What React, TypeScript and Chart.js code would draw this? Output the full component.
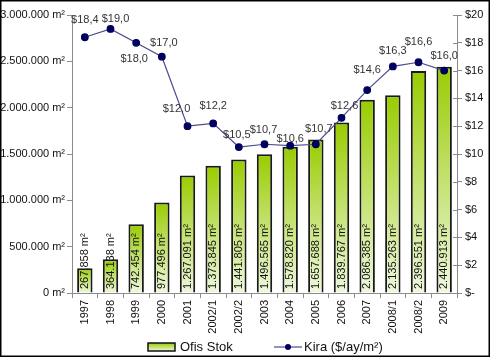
import React, { useEffect, useRef } from "react";
import { Chart, registerables } from "chart.js";

Chart.register(...registerables);

const categories = ["1997", "1998", "1999", "2000", "2001", "2002/1", "2002/2", "2003", "2004", "2005", "2006", "2007", "2008/1", "2008/2", "2009"];
const stockValues = [267858, 364138, 742454, 977496, 1267091, 1373845, 1441805, 1496565, 1578820, 1657688, 1839767, 2086385, 2135263, 2396551, 2440913];
const rentValues = [18.4, 19.0, 18.0, 17.0, 12.0, 12.2, 10.5, 10.7, 10.6, 10.7, 12.6, 14.6, 16.3, 16.6, 16.0];
const leftTicks = [0, 500000, 1000000, 1500000, 2000000, 2500000, 3000000];
const rightTicks = [0, 2, 4, 6, 8, 10, 12, 14, 16, 18, 20];
const stockLabel = "Ofis Stok";
const rentLabel = "Kira ($/ay/m²)";

const FONT = "'Liberation Sans', Arial, sans-serif";
const fmtThousands = (v: number) => String(Math.round(v)).replace(/\B(?=(\d{3})+(?!\d))/g, ".");
const fmtRent = (v: number) => "$" + v.toFixed(1).replace(".", ",");

// label offsets (dx, dy) relative to point, for readability like the original
const rentLabelOffsets: [number, number][] = [
  [0, -17], [5, -10], [-2, 16], [2, -14], [-11, -17], [0, -17], [-2, -12], [-1, -14], [0, -7], [3, -15], [3, -12], [0, -20], [0, -15], [0, -20], [0, -15],
];

const COLORS = {
  axis: "#8c8c8c",
  text: "#333333",
  barTop: "rgb(153,204,0)",
  barBottom: "rgb(238,247,222)",
  line: "#4a4a8c",
  point: "#00005e",
};

const labelsPlugin = {
  id: "customLabels",
  afterDatasetsDraw(chart: any) {
    const ctx = chart.ctx;
    const barMeta = chart.getDatasetMeta(0);
    const lineMeta = chart.getDatasetMeta(1);
    const yScale = chart.scales.y;
    ctx.save();
    ctx.font = `11px ${FONT}`;
    ctx.fillStyle = "#111";
    ctx.textBaseline = "middle";
    ctx.textAlign = "left";
    barMeta.data.forEach((bar: any, i: number) => {
      const base = yScale.getPixelForValue(0);
      ctx.save();
      ctx.translate(bar.x, base - 4);
      ctx.rotate(-Math.PI / 2);
      ctx.fillText(fmtThousands(stockValues[i]) + " m²", 0, 0);
      ctx.restore();
    });
    ctx.fillStyle = COLORS.text;
    ctx.textAlign = "center";
    lineMeta.data.forEach((pt: any, i: number) => {
      const [dx, dy] = rentLabelOffsets[i];
      ctx.fillText(fmtRent(rentValues[i]), pt.x + dx, pt.y + dy);
    });
    ctx.restore();
  },
  afterDraw(chart: any) {
    const ctx = chart.ctx;
    const y1 = chart.scales.y1;
    ctx.save();
    // inward ticks on right axis
    ctx.strokeStyle = COLORS.axis;
    ctx.lineWidth = 1;
    rightTicks.forEach((v) => {
      const py = Math.round(y1.getPixelForValue(v)) + 0.5;
      ctx.beginPath();
      ctx.moveTo(y1.left - 4, py);
      ctx.lineTo(y1.left, py);
      ctx.stroke();
    });
    // legend
    const ly = 347;
    const bx = 148, bw = 27, bh = 8;
    const g = ctx.createLinearGradient(0, ly - bh / 2, 0, ly + bh / 2);
    g.addColorStop(0, COLORS.barTop);
    g.addColorStop(1, COLORS.barBottom);
    ctx.fillStyle = g;
    ctx.fillRect(bx, ly - bh / 2, bw, bh);
    ctx.strokeStyle = "#111";
    ctx.lineWidth = 1.5;
    ctx.strokeRect(bx, ly - bh / 2, bw, bh);
    ctx.font = `13px ${FONT}`;
    ctx.fillStyle = "#111";
    ctx.textAlign = "left";
    ctx.textBaseline = "middle";
    ctx.fillText(stockLabel, bx + bw + 5, ly);
    const lx = 274;
    ctx.strokeStyle = COLORS.line;
    ctx.lineWidth = 1.2;
    ctx.beginPath();
    ctx.moveTo(lx, ly);
    ctx.lineTo(lx + 28, ly);
    ctx.stroke();
    ctx.fillStyle = COLORS.point;
    ctx.beginPath();
    ctx.arc(lx + 14, ly, 3, 0, Math.PI * 2);
    ctx.fill();
    ctx.fillStyle = "#111";
    ctx.fillText(rentLabel, lx + 30, ly);
    // frame
    ctx.strokeStyle = "#000";
    ctx.lineWidth = 1.5;
    ctx.strokeRect(0.75, 0.75, chart.width - 1.5, chart.height - 1.5);
    ctx.restore();
  },
};

export default function App() {
  const ref = useRef<HTMLCanvasElement | null>(null);
  useEffect(() => {
    if (!ref.current) return;
    const chart = new Chart(ref.current, {
      type: "bar",
      data: {
        labels: categories,
        datasets: [
          {
            type: "bar",
            label: stockLabel,
            data: stockValues,
            yAxisID: "y",
            order: 2,
            backgroundColor: (c: any) => {
              const ch = c.chart;
              const ys = ch.scales && ch.scales.y;
              if (!ys || c.raw == null) return COLORS.barTop;
              const top = ys.getPixelForValue(c.raw);
              const bottom = ys.getPixelForValue(0);
              if (!isFinite(top) || !isFinite(bottom) || top === bottom) return COLORS.barTop;
              const g = ch.ctx.createLinearGradient(0, top, 0, bottom);
              g.addColorStop(0, COLORS.barTop);
              g.addColorStop(1, COLORS.barBottom);
              return g;
            },
            borderColor: "#1a1a1a",
            borderWidth: 2,
            barPercentage: 0.6,
            categoryPercentage: 1,
          },
          {
            type: "line",
            label: rentLabel,
            data: rentValues,
            yAxisID: "y1",
            order: 1,
            borderColor: COLORS.line,
            borderWidth: 1.2,
            pointBackgroundColor: COLORS.point,
            pointBorderColor: COLORS.point,
            pointRadius: 3.3,
            tension: 0,
          },
        ] as any,
      },
      options: {
        animation: false,
        responsive: false,
        layout: { padding: { top: 15, bottom: 20, left: 0, right: 0 } },
        plugins: { legend: { display: false }, tooltip: { enabled: false } },
        scales: {
          x: {
            grid: { display: true, drawOnChartArea: false, color: COLORS.axis, tickLength: 5, offset: true },
            border: { color: COLORS.axis },
            ticks: { minRotation: 90, maxRotation: 90, color: "#111", font: { family: FONT, size: 11 }, padding: 2, autoSkip: false },
            afterFit: (s: any) => { s.height = 44; },
          },
          y: {
            position: "left",
            min: 0,
            max: 3000000,
            afterBuildTicks: (s: any) => { s.ticks = leftTicks.map((v) => ({ value: v })); },
            grid: { display: true, drawOnChartArea: false, color: COLORS.axis, tickLength: 5 },
            border: { color: COLORS.axis },
            ticks: { color: "#111", font: { family: FONT, size: 11 }, padding: 2, callback: (v: any) => fmtThousands(Number(v)) + " m²" },
            afterFit: (s: any) => { s.width = 72; },
          },
          y1: {
            position: "right",
            min: 0,
            max: 20,
            afterBuildTicks: (s: any) => { s.ticks = rightTicks.map((v) => ({ value: v })); },
            grid: { display: true, drawOnChartArea: false, color: COLORS.axis, tickLength: 5 },
            border: { color: COLORS.axis },
            ticks: { color: "#111", font: { family: FONT, size: 11 }, padding: 3, callback: (v: any) => (Number(v) === 0 ? "$-" : "$" + v) },
            afterFit: (s: any) => { s.width = 33; },
          },
        },
      } as any,
      plugins: [labelsPlugin],
    });
    return () => chart.destroy();
  }, []);
  return (
    <div style={{ position: "absolute", left: 0, top: 0, width: 490, height: 357, background: "#fff" }}>
      <canvas ref={ref} width={490} height={357} style={{ display: "block", width: 490, height: 357 }} />
    </div>
  );
}
